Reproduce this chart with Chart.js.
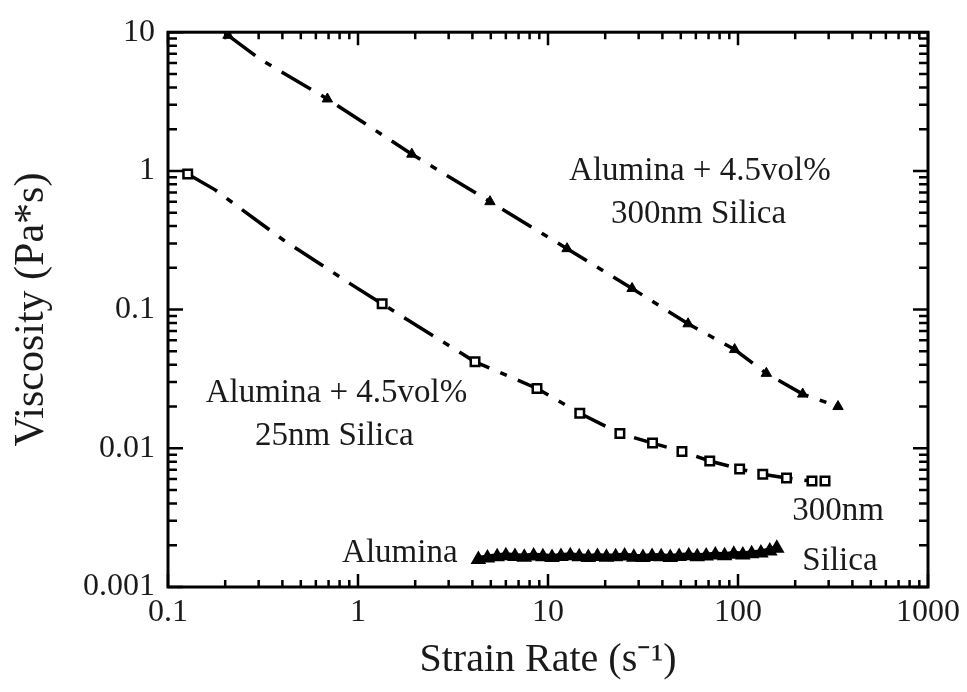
<!DOCTYPE html>
<html>
<head>
<meta charset="utf-8">
<script src="https://cdn.jsdelivr.net/npm/chart.js@4.4.1/dist/chart.umd.min.js"></script>
<style>
  html, body { margin: 0; padding: 0; background: #fff; }
  canvas { display: block; }
</style>
</head>
<body>
<canvas id="grafico" width="967" height="692"></canvas>
<script>
// === Dados ===
const xMajor = [0.1, 1, 10, 100, 1000];
const xLabels = ["0.1", "1", "10", "100", "1000"];
const yMajor = [0.001, 0.01, 0.1, 1, 10];
const yLabels = ["0.001", "0.01", "0.1", "1", "10"];

// Alumina + 4.5vol% 300nm Silica (triângulos cheios)
const sil300X = [0.207, 0.305, 0.69, 1.92, 4.95, 12.6, 27.7, 54.6, 96, 141, 219, 336];
const sil300Y = [9.5, 6.4, 3.3, 1.32, 0.60, 0.275, 0.142, 0.079, 0.0515, 0.0347, 0.0246, 0.020];
const sil300Mark = [1, 0, 1, 1, 1, 1, 1, 1, 1, 1, 1, 1];

// Alumina + 4.5vol% 25nm Silica (quadrados abertos)
const sil25X = [0.127, 0.177, 0.403, 0.908, 1.34, 4.13, 8.75, 14.7, 23.9, 35.5, 50.7, 71, 102, 135, 180, 245, 287];
const sil25Y = [0.95, 0.73, 0.319, 0.154, 0.11, 0.042, 0.027, 0.0179, 0.0128, 0.0109, 0.0095, 0.0081, 0.0071, 0.0065, 0.0061, 0.0058, 0.0058];
const sil25Mark = [1, 0, 0, 0, 1, 1, 1, 1, 1, 1, 1, 1, 1, 1, 1, 1, 1];

// Alumina pura
const aluX = [4.3, 4.8, 5.4, 6.0, 6.7, 7.5, 8.4, 9.4, 10.5, 11.7, 13.1, 14.6, 16.3, 18.2, 20.3, 22.7, 25.3, 28.3, 31.6, 35.3, 39.4, 44, 49, 55, 61, 68, 76, 85, 95, 106, 118, 132, 147, 160];
const aluY = [0.00158, 0.00162, 0.00165, 0.00168, 0.00166, 0.00164, 0.00167, 0.00165, 0.00163, 0.00166, 0.00168, 0.00165, 0.00163, 0.00166, 0.00164, 0.00165, 0.00167, 0.00164, 0.00163, 0.00166, 0.00165, 0.00163, 0.00166, 0.00168, 0.00165, 0.00167, 0.0017, 0.00168, 0.00172, 0.0017, 0.00174, 0.00176, 0.00182, 0.0019];

// Textos dentro do gráfico (em coordenadas dos dados)
const notes = [
  { text: "Alumina + 4.5vol%", x: 63, y: 1.0 },
  { text: "300nm Silica", x: 62, y: 0.49 },
  { text: "Alumina + 4.5vol%", x: 0.77, y: 0.025 },
  { text: "25nm Silica", x: 0.75, y: 0.0122 },
  { text: "Alumina", x: 1.66, y: 0.00176 },
  { text: "300nm", x: 336, y: 0.0035 },
  { text: "Silica", x: 344, y: 0.00154 },
];

const SERIF = "'Liberation Serif', 'Times New Roman', serif";

// posições dos ticks menores (2..9 em cada década)
function logTicks(majors) {
  const out = [];
  for (let i = 0; i < majors.length; i++) {
    out.push(majors[i]);
    if (i < majors.length - 1) {
      for (let m = 2; m <= 9; m++) out.push(majors[i] * m);
    }
  }
  return out;
}
const xTickVals = logTicks(xMajor);
const yTickVals = logTicks(yMajor);

function pts(xs, ys) {
  return xs.map((x, i) => ({ x, y: ys[i] }));
}

// === Plugin: moldura, ticks para dentro e textos ===
const framePlugin = {
  id: "frame",
  afterDraw(chart) {
    const { ctx, chartArea: a, scales } = chart;
    ctx.save();
    ctx.strokeStyle = "#000";
    ctx.lineWidth = 2.5;
    ctx.lineCap = "butt";

    xTickVals.forEach((v) => {
      const px = scales.x.getPixelForValue(v);
      const len = xMajor.includes(v) ? 13 : 7;
      ctx.beginPath();
      ctx.moveTo(px, a.bottom);
      ctx.lineTo(px, a.bottom - len);
      ctx.moveTo(px, a.top);
      ctx.lineTo(px, a.top + len);
      ctx.stroke();
    });
    yTickVals.forEach((v) => {
      const py = scales.y.getPixelForValue(v);
      const len = yMajor.includes(v) ? 15 : 9;
      ctx.beginPath();
      ctx.moveTo(a.left, py);
      ctx.lineTo(a.left + len, py);
      ctx.moveTo(a.right, py);
      ctx.lineTo(a.right - len, py);
      ctx.stroke();
    });

    ctx.lineWidth = 3;
    ctx.strokeRect(a.left, a.top, a.right - a.left, a.bottom - a.top);

    ctx.fillStyle = "#1a1a1a";
    ctx.font = "33px " + SERIF;
    ctx.textAlign = "center";
    ctx.textBaseline = "middle";
    notes.forEach((n) => {
      ctx.fillText(n.text, scales.x.getPixelForValue(n.x), scales.y.getPixelForValue(n.y));
    });
    ctx.restore();
  },
};

const dashDot = [34, 12, 7, 12];

const ctx = document.getElementById("grafico").getContext("2d");
new Chart(ctx, {
  type: "scatter",
  data: {
    datasets: [
      {
        label: "Alumina + 4.5vol% 300nm Silica",
        data: pts(sil300X, sil300Y),
        showLine: true,
        borderColor: "#000",
        borderWidth: 3.5,
        borderDash: dashDot,
        pointStyle: "triangle",
        pointRadius: sil300Mark.map((m) => (m ? 6 : 0)),
        pointBackgroundColor: "#000",
        pointBorderColor: "#000",
        pointBorderWidth: 1,
      },
      {
        label: "Alumina + 4.5vol% 25nm Silica",
        data: pts(sil25X, sil25Y),
        showLine: true,
        borderColor: "#000",
        borderWidth: 3.5,
        borderDash: dashDot,
        pointStyle: "rect",
        pointRadius: sil25Mark.map((m) => (m ? 6 : 0)),
        pointBackgroundColor: "#fff",
        pointBorderColor: "#000",
        pointBorderWidth: 2.5,
      },
      {
        label: "Alumina",
        data: pts(aluX, aluY),
        showLine: true,
        borderColor: "#000",
        borderWidth: 7,
        pointStyle: "triangle",
        pointRadius: 7,
        pointBackgroundColor: "#000",
        pointBorderColor: "#000",
        pointBorderWidth: 2,
      },
    ],
  },
  options: {
    responsive: false,
    animation: false,
    devicePixelRatio: 1,
    layout: { padding: { left: 0, right: 39, top: 27, bottom: 0 } },
    plugins: {
      legend: { display: false },
      tooltip: { enabled: false },
    },
    scales: {
      x: {
        type: "logarithmic",
        min: 0.1,
        max: 1000,
        afterBuildTicks: (s) => {
          s.ticks = xTickVals.map((v) => ({ value: v, major: xMajor.includes(v) }));
        },
        afterFit: (s) => { s.height = 105; },
        grid: { display: false, drawTicks: false },
        border: { display: false },
        ticks: {
          autoSkip: false,
          maxRotation: 0,
          padding: 6,
          color: "#1a1a1a",
          font: { family: SERIF, size: 32 },
          callback: (v) => {
            const i = xMajor.indexOf(v);
            return i >= 0 ? xLabels[i] : "";
          },
        },
        title: {
          display: true,
          text: "Strain Rate (s\u207B\u00B9)",
          color: "#1a1a1a",
          font: { family: SERIF, size: 40 },
          padding: { top: 0, bottom: 8 },
        },
      },
      y: {
        type: "logarithmic",
        min: 0.001,
        max: 10,
        afterBuildTicks: (s) => {
          s.ticks = yTickVals.map((v) => ({ value: v, major: yMajor.includes(v) }));
        },
        afterFit: (s) => { s.width = 168; },
        grid: { display: false, drawTicks: false },
        border: { display: false },
        ticks: {
          autoSkip: false,
          padding: 13,
          color: "#1a1a1a",
          font: { family: SERIF, size: 32 },
          callback: (v) => {
            const i = yMajor.indexOf(v);
            return i >= 0 ? yLabels[i] : "";
          },
        },
        title: {
          display: true,
          text: "Viscosity (Pa*s)",
          color: "#1a1a1a",
          font: { family: SERIF, size: 42 },
          padding: { top: 7, bottom: 0 },
        },
      },
    },
  },
  plugins: [framePlugin],
});
</script>
</body>
</html>
